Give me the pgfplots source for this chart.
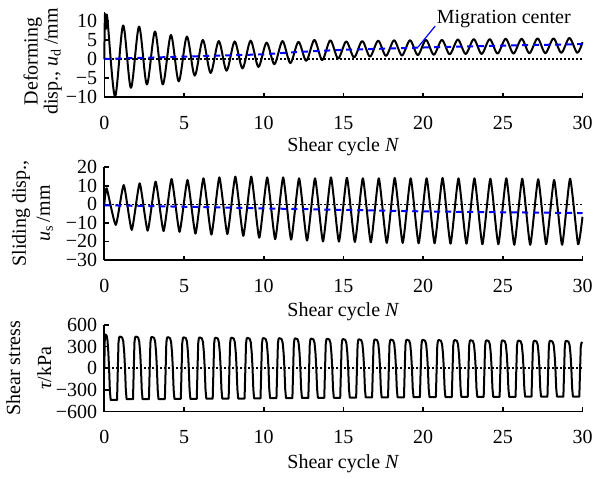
\documentclass[border=0pt]{standalone}
\usepackage{fontspec}
\setmainfont{Liberation Serif}
\usepackage{pgfplots}
\pgfplotsset{compat=1.18}

\pgfplotsset{
  panel/.style={
    scale only axis, width=239.1pt,
    xmin=0, xmax=30,
    axis x line*=bottom, axis y line*=left,
    axis line style={line width=0.8pt},
    every tick/.style={black, line width=0.8pt},
    tick align=inside, major tick length=2.2pt,
    xtick={0,5,...,30}, xticklabels={0,5,10,15,20,25,30},
    xticklabel style={yshift=-6pt},
    xlabel={Shear cycle \textit{N}},
    clip=false,
  },
  curve/.style={black, line width=1pt, line join=round},
  zero/.style={black, line width=0.8pt, dash pattern=on 0.8pt off 1.2pt},
  center/.style={blue, line width=1pt, dash pattern=on 3pt off 2.5pt},
}

\begin{document}
\begin{tikzpicture}
\useasboundingbox (0,0) rectangle (297pt,238.5pt);

% deforming displacement
\begin{axis}[panel, at={(52.15pt,189.85pt)}, anchor=south west, height=42.75pt,
  ymin=-10, ymax=12.5, ytick={-10,-5,0,5,10}, yticklabels={−10,−5,0,5,10},
  ylabel={Deforming\\disp., \textit{u}\textsubscript{d}\,/mm},
  every axis x label/.style={at={(axis description cs:0.5,0)},anchor=center,yshift=-24.5pt},
  every axis y label/.style={at={(axis description cs:-0.129,0.42)},rotate=90,anchor=center,align=center,font=\fontsize{10}{10}\selectfont}]
\addplot[zero] coordinates {(0,0) (30,0)};
\addplot[curve, smooth] coordinates {
(0,0) (0.04,11.8) (0.1,8) (0.18,11.2) (0.67,-9.8) (1.18,8.9) (1.67,-7.5) (2.18,8.6) (2.67,-6.6)
(3.18,7.3) (3.67,-6.6) (4.18,6.4) (4.67,-5.8) (5.18,6.0) (5.67,-4.3) (6.18,5.1) (6.67,-3.6)
(7.18,4.8) (7.67,-3.0) (8.18,4.7) (8.67,-2.4) (9.18,4.9) (9.67,-2.0) (10.18,4.4) (10.67,-1.3)
(11.18,4.8) (11.67,-1.0) (12.18,4.6) (12.67,-0.4) (13.18,5.1) (13.67,-0.2) (14.18,5.0) (14.67,0.2)
(15.18,4.7) (15.67,0.5) (16.18,4.8) (16.67,0.7) (17.18,4.9) (17.67,0.9) (18.18,5.0) (18.67,1.0)
(19.18,5.0) (19.67,1.1) (20.18,5.1) (20.67,1.2) (21.18,5.1) (21.67,1.3) (22.18,5.2) (22.67,1.4)
(23.18,5.3) (23.67,1.4) (24.18,5.3) (24.67,1.5) (25.18,5.4) (25.67,1.5) (26.18,5.4) (26.67,1.6)
(27.18,5.5) (27.67,1.6) (28.18,5.5) (28.67,1.7) (29.18,5.6) (29.67,1.7) (30,4.5)};
\addplot[center] coordinates {(0,0.1) (5,0.7) (10,1.3) (12,1.9) (15,2.5) (20,3.1) (25,3.6) (30,4.0)};
\draw[blue, line width=0.6pt] (axis cs:19.69,3.24) -- (axis cs:20.76,8.76);
\node[anchor=base, inner sep=0pt] at (axis cs:25.06,9.3) {Migration center};
\end{axis}

% sliding displacement
\begin{axis}[panel, at={(52.15pt,108.5pt)}, anchor=south west, height=46.4pt,
  ymin=-30, ymax=20, ytick={-30,-20,-10,0,10,20}, yticklabels={−30,−20,−10,0,10,20},
  ylabel={Sliding disp.,\\\textit{u}\textsubscript{s}\,/mm},
  every axis x label/.style={at={(axis description cs:0.5,0)},anchor=center,yshift=-26pt},
  every axis y label/.style={at={(axis description cs:-0.15,0.5)},rotate=90,anchor=center,align=center,font=\fontsize{10}{12}\selectfont}]
\addplot[zero] coordinates {(0,0) (30,0)};
\addplot[curve, smooth, tension=0.3] coordinates {
(0,0) (0.15,8.6) (0.72,-11.1) (1.22,10.4) (1.72,-13.8) (2.22,11.3) (2.72,-14.2) (3.22,12.2)
(3.72,-14.4) (4.22,13.6) (4.72,-14.8) (5.22,13.1) (5.72,-15.8) (6.22,14.0) (6.72,-16.3) (7.22,14.5)
(7.72,-16.0) (8.22,14.9) (8.72,-17.0) (9.22,14.9) (9.72,-18.0) (10.22,14.5) (10.72,-18.8) (11.22,14.5)
(11.72,-19.0) (12.22,14.0) (12.72,-19.5) (13.22,14.0) (13.72,-20.0) (14.22,14.5) (14.72,-20.1) (15.22,14.3)
(15.72,-20.3) (16.22,14.0) (16.72,-20.5) (17.22,14.0) (17.72,-20.8) (18.22,14.2) (18.72,-20.8) (19.22,14.0)
(19.72,-21.0) (20.22,14.0) (20.72,-21.0) (21.22,14.2) (21.72,-21.2) (22.22,14.0) (22.72,-21.2) (23.22,14.0)
(23.72,-21.5) (24.22,13.8) (24.72,-21.5) (25.22,14.0) (25.72,-21.8) (26.22,13.8) (26.72,-21.8) (27.22,13.5)
(27.72,-21.5) (28.22,13.1) (28.72,-21.8) (29.22,13.8) (29.72,-21.5) (30,-6.7)};
\addplot[center] coordinates {(0,-0.5) (5,-1.3) (10,-2.2) (15,-3.0) (20,-3.8) (25,-4.3) (30,-4.7)};
\end{axis}

% shear stress
\begin{axis}[panel, at={(52.15pt,32.75pt)}, anchor=south west, height=43.25pt,
  ymin=-600, ymax=600, ytick={-600,-300,0,300,600}, yticklabels={−600,−300,0,300,600},
  ylabel={Shear stress\\[3.5pt]\textit{τ}/kPa},
  every axis x label/.style={at={(axis description cs:0.5,0)},anchor=center,yshift=-26pt},
  every axis y label/.style={at={(axis description cs:-0.158,0.5)},rotate=90,anchor=center,align=center}]
\addplot[zero] coordinates {(0,0) (30,0)};
\addplot[curve] coordinates {
(0,0) (0.03,400) (0.06,470) (0.14,455) (0.20,390) (0.25,230) (0.30,0) (0.35,-310) (0.40,-440)
(0.80,-440) (0.85,0) (0.89,352) (0.93,427) (0.98,440) (1.12,427) (1.19,374) (1.25,220) (1.30,0) (1.35,-301) (1.40,-430)
(1.80,-430) (1.85,0) (1.89,352) (1.93,427) (1.98,440) (2.12,427) (2.19,374) (2.25,220) (2.30,0) (2.35,-301) (2.40,-430)
(2.80,-430) (2.85,0) (2.89,348) (2.93,422) (2.98,435) (3.12,422) (3.19,370) (3.25,218) (3.30,0) (3.35,-300) (3.40,-428)
(3.80,-428) (3.85,0) (3.89,346) (3.93,419) (3.98,432) (4.12,419) (4.19,367) (4.25,216) (4.30,0) (4.35,-298) (4.40,-425)
(4.80,-425) (4.85,0) (4.89,344) (4.93,417) (4.98,430) (5.12,417) (5.19,366) (5.25,215) (5.30,0) (5.35,-298) (5.40,-425)
(5.80,-425) (5.85,0) (5.89,342) (5.93,415) (5.98,428) (6.12,415) (6.19,364) (6.25,214) (6.30,0) (6.35,-295) (6.40,-422)
(6.80,-422) (6.85,0) (6.89,340) (6.93,412) (6.98,425) (7.12,412) (7.19,361) (7.25,213) (7.30,0) (7.35,-294) (7.40,-420)
(7.80,-420) (7.85,0) (7.89,340) (7.93,412) (7.98,425) (8.12,412) (8.19,361) (8.25,213) (8.30,0) (8.35,-294) (8.40,-420)
(8.80,-420) (8.85,0) (8.89,338) (8.93,409) (8.98,422) (9.12,409) (9.19,359) (9.25,211) (9.30,0) (9.35,-293) (9.40,-418)
(9.80,-418) (9.85,0) (9.89,336) (9.93,407) (9.98,420) (10.12,407) (10.19,357) (10.25,210) (10.30,0) (10.35,-291) (10.40,-415)
(10.80,-415) (10.85,0) (10.89,334) (10.93,405) (10.98,418) (11.12,405) (11.19,355) (11.25,209) (11.30,0) (11.35,-291) (11.40,-415)
(11.80,-415) (11.85,0) (11.89,332) (11.93,403) (11.98,415) (12.12,403) (12.19,353) (12.25,208) (12.30,0) (12.35,-288) (12.40,-412)
(12.80,-412) (12.85,0) (12.89,330) (12.93,400) (12.98,412) (13.12,400) (13.19,350) (13.25,206) (13.30,0) (13.35,-287) (13.40,-410)
(13.80,-410) (13.85,0) (13.89,328) (13.93,398) (13.98,410) (14.12,398) (14.19,349) (14.25,205) (14.30,0) (14.35,-287) (14.40,-410)
(14.80,-410) (14.85,0) (14.89,324) (14.93,393) (14.98,405) (15.12,393) (15.19,344) (15.25,203) (15.30,0) (15.35,-286) (15.40,-408)
(15.80,-408) (15.85,0) (15.89,322) (15.93,390) (15.98,402) (16.12,390) (16.19,342) (16.25,201) (16.30,0) (16.35,-284) (16.40,-405)
(16.80,-405) (16.85,0) (16.89,320) (16.93,388) (16.98,400) (17.12,388) (17.19,340) (17.25,200) (17.30,0) (17.35,-284) (17.40,-405)
(17.80,-405) (17.85,0) (17.89,318) (17.93,386) (17.98,398) (18.12,386) (18.19,338) (18.25,199) (18.30,0) (18.35,-282) (18.40,-403)
(18.80,-403) (18.85,0) (18.89,317) (18.93,384) (18.98,396) (19.12,384) (19.19,337) (19.25,198) (19.30,0) (19.35,-280) (19.40,-400)
(19.80,-400) (19.85,0) (19.89,316) (19.93,383) (19.98,395) (20.12,383) (20.19,336) (20.25,198) (20.30,0) (20.35,-280) (20.40,-400)
(20.80,-400) (20.85,0) (20.89,314) (20.93,381) (20.98,393) (21.12,381) (21.19,334) (21.25,197) (21.30,0) (21.35,-280) (21.40,-400)
(21.80,-400) (21.85,0) (21.89,314) (21.93,380) (21.98,392) (22.12,380) (22.19,333) (22.25,196) (22.30,0) (22.35,-279) (22.40,-398)
(22.80,-398) (22.85,0) (22.89,312) (22.93,378) (22.98,390) (23.12,378) (23.19,332) (23.25,195) (23.30,0) (23.35,-279) (23.40,-398)
(23.80,-398) (23.85,0) (23.89,310) (23.93,376) (23.98,388) (24.12,376) (24.19,330) (24.25,194) (24.30,0) (24.35,-277) (24.40,-396)
(24.80,-396) (24.85,0) (24.89,310) (24.93,375) (24.98,387) (25.12,375) (25.19,329) (25.25,194) (25.30,0) (25.35,-277) (25.40,-396)
(25.80,-396) (25.85,0) (25.89,308) (25.93,373) (25.98,385) (26.12,373) (26.19,327) (26.25,193) (26.30,0) (26.35,-277) (26.40,-395)
(26.80,-395) (26.85,0) (26.89,306) (26.93,371) (26.98,383) (27.12,371) (27.19,326) (27.25,192) (27.30,0) (27.35,-277) (27.40,-395)
(27.80,-395) (27.85,0) (27.89,306) (27.93,370) (27.98,382) (28.12,370) (28.19,325) (28.25,191) (28.30,0) (28.35,-276) (28.40,-394)
(28.80,-394) (28.85,0) (28.89,304) (28.93,369) (28.98,380) (29.12,369) (29.19,323) (29.25,190) (29.30,0) (29.35,-276) (29.40,-394)
(29.80,-394) (29.85,0) (29.89,290) (29.93,350) (30,362)};
\end{axis}
\end{tikzpicture}
\end{document}
